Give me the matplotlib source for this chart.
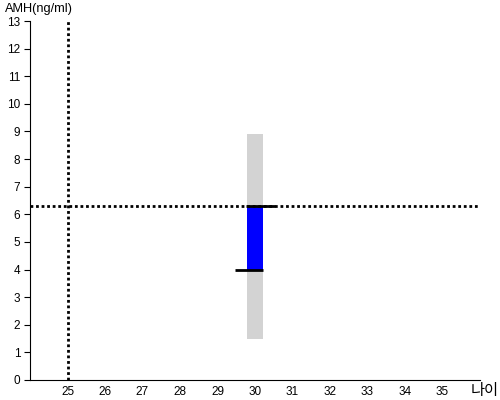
import matplotlib
matplotlib.use("Agg")
import matplotlib.pyplot as plt

plt.rcParams['font.family'] = ['Liberation Sans', 'Noto Sans CJK KR', 'DejaVu Sans']

# data
age = 30
range_low, range_high = 1.5, 8.9      # gray reference range
amh_low, amh_high = 4.0, 6.3          # blue bar
ref_age = 25
ref_amh = 6.3
x_ticks = list(range(25, 36))
y_ticks = list(range(0, 14))

fig = plt.figure(figsize=(5, 4), dpi=100)
ax = fig.add_axes([0.06, 0.05, 0.90, 0.8975])

bar_w = 0.43
ax.bar(age, range_high - range_low, bottom=range_low, width=bar_w, color='#d3d3d3', zorder=1)
ax.bar(age, amh_high - amh_low, bottom=amh_low, width=bar_w, color='#0000ff', zorder=2)

# markers at the ends of the blue bar
ax.hlines(amh_high, age - 0.24, age + 0.53, color='black', lw=2, zorder=4)
ax.hlines(amh_low, age - 0.53, age + 0.21, color='black', lw=2, zorder=4)

# reference lines
ax.axvline(ref_age, color='black', ls=(0, (1, 1)), lw=2, zorder=3)
ax.axhline(ref_amh, color='black', ls=(0, (1, 1)), lw=2, zorder=3)

ax.set_xlim(24, 36)
ax.set_ylim(0, 13)
ax.set_xticks(x_ticks)
ax.set_yticks(y_ticks)
ax.tick_params(axis='x', length=0, labelsize=8.5, pad=4)
ax.tick_params(axis='y', length=4, labelsize=8.5, pad=3)
for s in ['top', 'right']:
    ax.spines[s].set_visible(False)

fig.text(0.01, 0.993, 'AMH(ng/ml)', fontsize=9.2, ha='left', va='top')
fig.text(0.998, 0.005, '나이', fontsize=11, ha='right', va='bottom')

fig.savefig('out.png', dpi=100)
